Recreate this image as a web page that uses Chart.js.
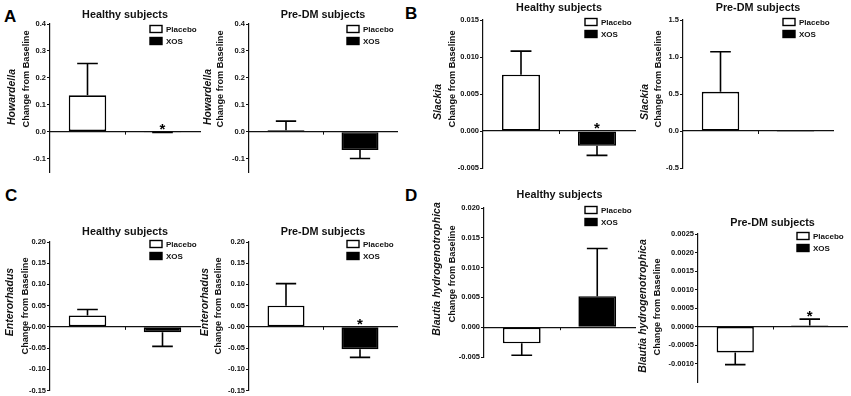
<!DOCTYPE html>
<html><head><meta charset="utf-8">
<script src="https://cdn.jsdelivr.net/npm/chart.js@4/dist/chart.umd.min.js"></script>
<style>
html,body{margin:0;padding:0;background:#fff}
body{width:851px;height:396px;position:relative;overflow:hidden;font-family:"Liberation Sans",Arial,sans-serif}
.cv{position:absolute;left:0;top:0;width:851px;height:396px}
.lt{position:absolute;font-weight:bold;font-size:17px;line-height:17px;color:#000}
</style></head><body>
<div class="lt" style="left:4px;top:8px">A</div>
<div class="lt" style="left:405px;top:5px">B</div>
<div class="lt" style="left:5px;top:187px">C</div>
<div class="lt" style="left:405px;top:187px">D</div>
<div class="cv"><canvas id="c0"></canvas></div>
<div class="cv"><canvas id="c1"></canvas></div>
<div class="cv"><canvas id="c2"></canvas></div>
<div class="cv"><canvas id="c3"></canvas></div>
<div class="cv"><canvas id="c4"></canvas></div>
<div class="cv"><canvas id="c5"></canvas></div>
<div class="cv"><canvas id="c6"></canvas></div>
<div class="cv"><canvas id="c7"></canvas></div>
<script>
// ---------- data ----------
const groups = ['Placebo', 'XOS'];
const titleHealthy = 'Healthy subjects';
const titlePreDM = 'Pre-DM subjects';
const yTitleLine2 = 'Change from Baseline';

// Howardella
const howardellaHealthyMean = [0.135, -0.001];
const howardellaHealthySem  = [0.118, 0.002];
const howardellaHealthySig  = [false, true];
const howardellaPreDMMean   = [0.005, -0.068];
const howardellaPreDMSem    = [0.034, 0.032];
const howardellaPreDMSig    = [false, false];
const howardellaTicks       = [-0.1, 0, 0.1, 0.2, 0.3, 0.4];
const howardellaTickLabels  = ['-0.1', '0.0', '0.1', '0.2', '0.3', '0.4'];
const howardellaRange       = [-0.15, 0.4];

// Slackia
const slackiaHealthyMean = [0.0076, -0.002];
const slackiaHealthySem  = [0.0032, 0.0013];
const slackiaHealthySig  = [false, true];
const slackiaHealthyTicks = [-0.005, 0, 0.005, 0.010, 0.015];
const slackiaHealthyTickLabels = ['-0.005', '0.000', '0.005', '0.010', '0.015'];
const slackiaHealthyRange = [-0.005, 0.015];
const slackiaPreDMMean = [0.53, -0.015];
const slackiaPreDMSem  = [0.54, 0];
const slackiaPreDMSig  = [false, false];
const slackiaPreDMTicks = [-0.5, 0, 0.5, 1.0, 1.5];
const slackiaPreDMTickLabels = ['-0.5', '0.0', '0.5', '1.0', '1.5'];
const slackiaPreDMRange = [-0.5, 1.5];

// Enterorhadus
const enterorhadusHealthyMean = [0.027, -0.013];
const enterorhadusHealthySem  = [0.014, 0.033];
const enterorhadusHealthySig  = [false, false];
const enterorhadusPreDMMean = [0.05, -0.053];
const enterorhadusPreDMSem  = [0.052, 0.019];
const enterorhadusPreDMSig  = [false, true];
const enterorhadusTicks = [-0.15, -0.10, -0.05, 0, 0.05, 0.10, 0.15, 0.20];
const enterorhadusTickLabels = ['-0.15', '-0.10', '-0.05', '-0.00', '0.05', '0.10', '0.15', '0.20'];
const enterorhadusRange = [-0.15, 0.2];

// Blautia hydrogenotrophica
const blautiaHealthyMean = [-0.0027, 0.0052];
const blautiaHealthySem  = [0.0020, 0.0080];
const blautiaHealthySig  = [false, false];
const blautiaHealthyTicks = [-0.005, 0, 0.005, 0.010, 0.015, 0.020];
const blautiaHealthyTickLabels = ['-0.005', '0.000', '0.005', '0.010', '0.015', '0.020'];
const blautiaHealthyRange = [-0.005, 0.02];
const blautiaPreDMMean = [-0.0007, 0.00003];
const blautiaPreDMSem  = [0.00033, 0.00017];
const blautiaPreDMSig  = [false, true];
const blautiaPreDMTicks = [-0.0010, -0.0005, 0, 0.0005, 0.0010, 0.0015, 0.0020, 0.0025];
const blautiaPreDMTickLabels = ['-0.0010', '-0.0005', '0.0000', '0.0005', '0.0010', '0.0015', '0.0020', '0.0025'];
const blautiaPreDMRange = [-0.0015, 0.0025];

// ---------- panel layout (styles) ----------
const panels = [
  {genus:'Howardella', title:titleHealthy, mean:howardellaHealthyMean, sem:howardellaHealthySem, sig:howardellaHealthySig,
   ticks:howardellaTicks, labels:howardellaTickLabels, range:howardellaRange,
   area:{l:50,r:200,t:24,b:172}, titleDy:9, legDy:5, g1:-38, g2:-24, ly1:97, ly2:79},
  {genus:'Howardella', title:titlePreDM, mean:howardellaPreDMMean, sem:howardellaPreDMSem, sig:howardellaPreDMSig,
   ticks:howardellaTicks, labels:howardellaTickLabels, range:howardellaRange,
   area:{l:249,r:397,t:24,b:172}, titleDy:9, legDy:5, g1:-41, g2:-29, ly1:97, ly2:79},
  {genus:'Slackia', title:titleHealthy, mean:slackiaHealthyMean, sem:slackiaHealthySem, sig:slackiaHealthySig,
   ticks:slackiaHealthyTicks, labels:slackiaHealthyTickLabels, range:slackiaHealthyRange,
   area:{l:483,r:635,t:20,b:168}, titleDy:12, legDy:2, g1:-45, g2:-31, ly1:102, ly2:79},
  {genus:'Slackia', title:titlePreDM, mean:slackiaPreDMMean, sem:slackiaPreDMSem, sig:slackiaPreDMSig,
   ticks:slackiaPreDMTicks, labels:slackiaPreDMTickLabels, range:slackiaPreDMRange,
   area:{l:683,r:833,t:20,b:168}, titleDy:12, legDy:2, g1:-38, g2:-25, ly1:102, ly2:79},
  {genus:'Enterorhadus', title:titleHealthy, mean:enterorhadusHealthyMean, sem:enterorhadusHealthySem, sig:enterorhadusHealthySig,
   ticks:enterorhadusTicks, labels:enterorhadusTickLabels, range:enterorhadusRange,
   area:{l:50,r:200,t:242,b:391}, titleDy:10, legDy:2, g1:-40, g2:-25, ly1:302, ly2:306},
  {genus:'Enterorhadus', title:titlePreDM, mean:enterorhadusPreDMMean, sem:enterorhadusPreDMSem, sig:enterorhadusPreDMSig,
   ticks:enterorhadusTicks, labels:enterorhadusTickLabels, range:enterorhadusRange,
   area:{l:249,r:397,t:242,b:391}, titleDy:10, legDy:2, g1:-44, g2:-31, ly1:302, ly2:306},
  {genus:'Blautia hydrogenotrophica', title:titleHealthy, mean:blautiaHealthyMean, sem:blautiaHealthySem, sig:blautiaHealthySig,
   ticks:blautiaHealthyTicks, labels:blautiaHealthyTickLabels, range:blautiaHealthyRange,
   area:{l:484,r:635,t:208,b:357}, titleDy:13, legDy:2, g1:-47, g2:-32, ly1:269, ly2:274},
  {genus:'Blautia hydrogenotrophica', title:titlePreDM, mean:blautiaPreDMMean, sem:blautiaPreDMSem, sig:blautiaPreDMSig,
   ticks:blautiaPreDMTicks, labels:blautiaPreDMTickLabels, range:blautiaPreDMRange,
   area:{l:698,r:847,t:234,b:382}, titleDy:11, legDy:2, g1:-55, g2:-41, ly1:306, ly2:307}
];

const FONT = '"Liberation Sans", Arial, sans-serif';
const INK = '#111';
const YAXIS_W = 40;

const decor = {
  id: 'decor',
  afterDatasetsDraw(chart, args, o) {
    const p = o.panel; if (!p) return;
    const ctx = chart.ctx, ys = chart.scales.y, xs = chart.scales.x;
    ctx.save();
    // middle tick on x axis
    const zy = ys.getPixelForValue(0);
    const mx = Math.round((xs.getPixelForValue(0) + xs.getPixelForValue(1)) / 2) + 0.5;
    ctx.strokeStyle = INK; ctx.lineWidth = 1;
    ctx.beginPath(); ctx.moveTo(mx, zy); ctx.lineTo(mx, zy + 3); ctx.stroke();
    // error bars and significance
    chart.data.datasets.forEach((ds, i) => {
      const bar = chart.getDatasetMeta(i).data[i];
      if (!bar) return;
      const m = p.mean[i], s = p.sem[i];
      const end = m + (m >= 0 ? s : -s);
      const x = bar.x, cw = bar.width * 0.55;
      if (s > 0) {
        const y0 = ys.getPixelForValue(m), y1 = ys.getPixelForValue(end);
        ctx.strokeStyle = '#000'; ctx.lineWidth = 1.6;
        ctx.beginPath(); ctx.moveTo(x, y0); ctx.lineTo(x, y1);
        ctx.moveTo(x - cw / 2, y1); ctx.lineTo(x + cw / 2, y1); ctx.stroke();
      }
      if (p.sig[i]) {
        const topV = m >= 0 ? end : 0;
        const yy = ys.getPixelForValue(Math.max(0, topV)) - 2;
        ctx.font = 'bold 15px ' + FONT;
        ctx.fillStyle = '#000'; ctx.textAlign = 'center'; ctx.textBaseline = 'alphabetic';
        const mt = ctx.measureText('*');
        ctx.fillText('*', x, yy - mt.actualBoundingBoxDescent);
      }
    });
    ctx.restore();
  },
  afterDraw(chart, args, o) {
    const p = o.panel; if (!p) return;
    const ctx = chart.ctx, ca = chart.chartArea;
    ctx.save();
    // title
    ctx.font = 'bold 10.8px ' + FONT;
    ctx.fillStyle = INK; ctx.textAlign = 'center'; ctx.textBaseline = 'middle';
    ctx.fillText(p.title, (ca.left + ca.right) / 2, ca.top - p.titleDy);
    // legend
    const bx = ca.right - 50;
    chart.data.datasets.forEach((ds, i) => {
      const yy = ca.top + p.legDy + i * 12;
      ctx.fillStyle = ds.backgroundColor; ctx.strokeStyle = '#000'; ctx.lineWidth = 1.4;
      ctx.fillRect(bx, yy - 3.5, 12, 7); ctx.strokeRect(bx, yy - 3.5, 12, 7);
      ctx.fillStyle = INK; ctx.font = 'bold 8px ' + FONT;
      ctx.textAlign = 'left'; ctx.textBaseline = 'middle';
      ctx.fillText(ds.label, bx + 16, yy + 0.5);
    });
    // y-axis title (two lines)
    ctx.textAlign = 'center'; ctx.textBaseline = 'middle'; ctx.fillStyle = INK;
    ctx.save();
    ctx.translate(ca.left + p.g1, p.ly1);
    ctx.rotate(-Math.PI / 2);
    ctx.font = 'italic bold 10.5px ' + FONT;
    ctx.fillText(p.genus, 0, 0);
    ctx.restore();
    ctx.save();
    ctx.translate(ca.left + p.g2, p.ly2);
    ctx.rotate(-Math.PI / 2);
    ctx.font = 'bold 9.2px ' + FONT;
    ctx.fillText(yTitleLine2, 0, 0);
    ctx.restore();
    ctx.restore();
  }
};

panels.forEach((p, k) => {
  const W = 851, H = 396;
  new Chart(document.getElementById('c' + k), {
    type: 'bar',
    data: {
      labels: groups,
      datasets: [
        {label: groups[0], data: [p.mean[0], null], backgroundColor: '#ffffff'},
        {label: groups[1], data: [null, p.mean[1]], backgroundColor: '#000000'}
      ]
    },
    options: {
      responsive: true, maintainAspectRatio: false, animation: false, devicePixelRatio: 1,
      events: [],
      layout: {padding: {left: p.area.l - YAXIS_W, right: W - p.area.r, top: p.area.t, bottom: H - p.area.b}},
      datasets: {bar: {grouped: false, categoryPercentage: 0.5, barPercentage: 1,
        borderColor: '#000', borderWidth: 1.6, borderSkipped: false}},
      plugins: {legend: {display: false}, tooltip: {enabled: false}, title: {display: false}, decor: {panel: p}},
      scales: {
        x: {
          position: {y: 0},
          ticks: {display: false},
          grid: {display: false},
          border: {display: true, color: INK, width: 1.2},
          afterFit(s) { s.height = 0; }
        },
        y: {
          min: p.range[0], max: p.range[1],
          afterFit(s) { s.width = YAXIS_W; },
          afterBuildTicks(s) { s.ticks = p.ticks.map(v => ({value: v})); },
          ticks: {
            autoSkip: false, padding: 1, color: INK,
            font: {family: FONT, size: 7.5, weight: 'bold'},
            callback: (v) => p.labels[p.ticks.indexOf(v)]
          },
          grid: {drawOnChartArea: false, drawTicks: true, tickLength: 3, color: INK, lineWidth: 1},
          border: {display: true, color: INK, width: 1.2}
        }
      }
    },
    plugins: [decor]
  });
});
</script>
</body></html>
